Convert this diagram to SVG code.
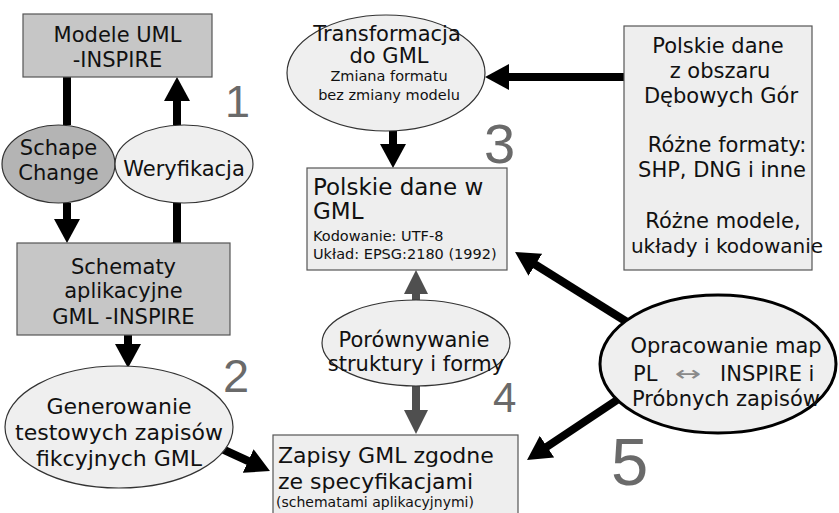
<svg xmlns="http://www.w3.org/2000/svg" width="839" height="513" viewBox="0 0 839 513">
  <style>
    text { font-family: "DejaVu Sans", Verdana, sans-serif; fill: #111; }
    .t21 { font-size: 21px; }
    .t22 { font-size: 22px; }
    .t23 { font-size: 23px; }
    .sm { font-size: 14.5px; }
    .mid { text-anchor: middle; }
    .num { font-family: "Liberation Sans", Arial, sans-serif; fill: #6a6a6a; }
    .sym { fill: #8a8a8a; }
    .dark { fill: #c6c6c6; stroke: #555; stroke-width: 1.2; }
    .darker { fill: #b4b4b4; stroke: #333; stroke-width: 1.2; }
    .light { fill: #eeeeee; stroke: #555; stroke-width: 1.2; }
    .lightE { fill: #efefef; stroke: #333; stroke-width: 1.2; }
    .bold { fill: #efefef; stroke: #000; stroke-width: 3; }
    .con { stroke: #000; stroke-width: 8; fill: none; }
    .con2 { stroke: #4f4f4f; stroke-width: 8; fill: none; }
  </style>
  <defs>
    <marker id="head" markerUnits="userSpaceOnUse" viewBox="0 0 24 26" markerWidth="24" markerHeight="26" refX="6" refY="13" orient="auto">
      <path d="M0,0 L24,13 L0,26 Z" fill="#000"/>
    </marker>
    <marker id="headGray" markerUnits="userSpaceOnUse" viewBox="0 0 24 24" markerWidth="24" markerHeight="24" refX="6" refY="12" orient="auto">
      <path d="M0,0 L24,12 L0,24 Z" fill="#4f4f4f"/>
    </marker>
  </defs>

  <rect width="839" height="513" fill="#ffffff"/>

  <!-- connectors -->
  <g id="connectors">
    <line class="con" x1="67" y1="77" x2="67" y2="125"/>
    <line class="con" x1="67" y1="203" x2="67" y2="225" marker-end="url(#head)"/>
    <line class="con" x1="177" y1="125" x2="177" y2="95" marker-end="url(#head)"/>
    <line class="con" x1="177" y1="243" x2="177" y2="203"/>
    <line class="con" x1="128" y1="335" x2="128" y2="350" marker-end="url(#head)"/>
    <line class="con" x1="222" y1="449" x2="253.6" y2="463.5" marker-end="url(#head)"/>
    <line class="con" x1="624" y1="77" x2="503" y2="77" marker-end="url(#head)"/>
    <line class="con" x1="393" y1="131" x2="393" y2="150" marker-end="url(#head)"/>
    <line class="con2" x1="416" y1="300" x2="416" y2="288" marker-end="url(#headGray)"/>
    <line class="con2" x1="416" y1="386" x2="416" y2="416" marker-end="url(#headGray)"/>
    <line class="con" x1="627" y1="322" x2="530.3" y2="261.5" marker-end="url(#head)"/>
    <line class="con" x1="617" y1="400" x2="542" y2="450" marker-end="url(#head)"/>
  </g>

  <!-- step numbers -->
  <g id="numbers">
    <text class="num" x="225" y="117" font-size="45">1</text>
    <text class="num" x="223" y="392" font-size="47">2</text>
    <text class="num" x="484" y="163" font-size="56">3</text>
    <text class="num" x="493" y="412" font-size="42">4</text>
    <text class="num" x="611" y="485" font-size="67">5</text>
  </g>

  <g id="modele-uml">
    <rect class="dark" x="23" y="14" width="189" height="63"/>
    <text class="t21 mid" x="117.5" y="42">Modele UML</text>
    <text class="t21 mid" x="117.5" y="67">-INSPIRE</text>
  </g>

  <g id="schape-change">
    <ellipse class="darker" cx="58.5" cy="164" rx="56.5" ry="39"/>
    <text class="t21 mid" x="58.5" y="155">Schape</text>
    <text class="t21 mid" x="58.5" y="180">Change</text>
  </g>

  <g id="weryfikacja">
    <ellipse class="lightE" cx="184" cy="164" rx="69" ry="39"/>
    <text class="t21 mid" x="184" y="176">Weryfikacja</text>
  </g>

  <g id="schematy">
    <rect class="dark" x="17" y="243" width="213" height="92"/>
    <text class="t21 mid" x="123.5" y="274">Schematy</text>
    <text class="t21 mid" x="123.5" y="298">aplikacyjne</text>
    <text class="t21 mid" x="123.5" y="324">GML -INSPIRE</text>
  </g>

  <g id="generowanie">
    <ellipse class="lightE" cx="119" cy="427" rx="114" ry="61"/>
    <text class="t22 mid" x="119" y="414">Generowanie</text>
    <text class="t22 mid" x="119" y="440">testowych zapisów</text>
    <text class="t22 mid" x="119" y="466">fikcyjnych GML</text>
  </g>

  <g id="zapisy-gml">
    <rect class="light" x="273" y="435" width="245" height="84"/>
    <text class="t22" x="278" y="463">Zapisy GML zgodne</text>
    <text class="t22" x="278" y="489">ze specyfikacjami</text>
    <text x="276" y="507" font-size="14">(schematami aplikacyjnymi)</text>
  </g>

  <g id="transformacja">
    <ellipse class="lightE" cx="386" cy="73" rx="99" ry="58"/>
    <text class="t21 mid" x="387" y="41">Transformacja</text>
    <text class="t21 mid" x="389" y="63">do GML</text>
    <text class="sm mid" x="389" y="81">Zmiana formatu</text>
    <text class="sm mid" x="389" y="100">bez zmiany modelu</text>
  </g>

  <g id="polskie-gml">
    <rect class="light" x="307" y="168" width="200" height="102"/>
    <text class="t23" x="313" y="195">Polskie dane w</text>
    <text class="t23" x="313" y="219">GML</text>
    <text class="sm" x="313" y="241">Kodowanie: UTF-8</text>
    <text class="sm" x="313" y="259">Układ: EPSG:2180 (1992)</text>
  </g>

  <g id="porownywanie">
    <ellipse class="lightE" cx="416" cy="343" rx="94" ry="43"/>
    <text class="t21 mid" x="414" y="347">Porównywanie</text>
    <text class="t21 mid" x="416" y="371">struktury i formy</text>
  </g>

  <g id="polskie-dane">
    <rect class="light" x="624" y="26" width="188" height="244"/>
    <text class="t21 mid" x="718" y="53">Polskie dane</text>
    <text class="t21 mid" x="720" y="78">z obszaru</text>
    <text class="t21 mid" x="721" y="103">Dębowych Gór</text>
    <text class="t21 mid" x="727" y="152">Różne formaty:</text>
    <text class="t21 mid" x="722" y="177">SHP, DNG i inne</text>
    <text class="t21 mid" x="723" y="228">Różne modele,</text>
    <text class="mid" x="727" y="253" font-size="20">układy i kodowanie</text>
  </g>

  <g id="opracowanie">
    <ellipse class="bold" cx="718" cy="364" rx="118" ry="69"/>
    <text class="t21 mid" x="726" y="353">Opracowanie map</text>
    <text class="t21" x="633" y="381">PL<tspan x="720">INSPIRE i</tspan></text>
    <text class="mid sym" transform="translate(688,381) scale(1.5,1)" font-size="21">↔</text>
    <text class="t21 mid" x="726" y="406">Próbnych zapisów</text>
  </g>
</svg>
